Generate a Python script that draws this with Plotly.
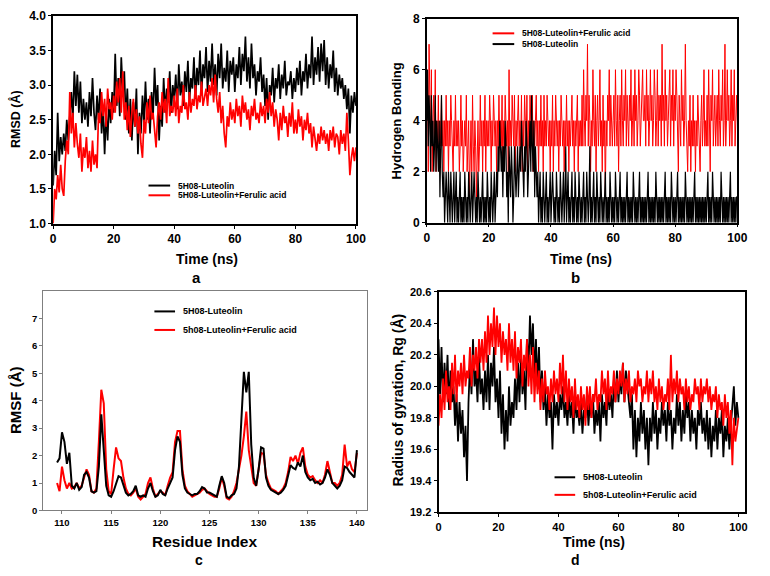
import plotly.graph_objects as go

# simulation time grids (0-100 ns) and residue index grid
time_ns = [0.5 * i for i in range(201)]
time_hb = [0.25 * i for i in range(401)]
residue = [109.5 + 0.25 * i for i in range(123)]

# panel a - RMSD (A)
rmsd_lut = [
    1.55, 2.05, 1.7, 2.6, 1.9, 2.25, 2.0, 2.3, 2.05, 2.5, 2.2, 2.6, 2.9, 2.5, 3.2, 2.7, 3.15, 2.6, 3.05, 2.45,
    2.8, 2.5, 2.75, 2.4, 2.9, 2.55, 3.1, 2.6, 2.35, 2.85, 2.5, 2.95, 2.3, 2.7, 2.0, 2.6, 2.2, 2.8, 2.45, 2.9,
    2.6, 3.45, 2.7, 3.1, 2.55, 3.4, 2.9, 3.2, 2.5, 2.95, 2.3, 2.8, 2.2, 2.75, 2.4, 2.95, 2.0, 2.6, 2.3, 2.85,
    2.45, 3.05, 2.5, 2.8, 2.3, 2.9, 2.55, 3.25, 2.7, 3.0, 2.2, 2.7, 2.4, 3.1, 2.6, 2.95, 2.75, 3.2, 2.6, 3.0,
    2.8, 3.15, 2.65, 3.3, 2.85, 3.05, 2.7, 3.2, 2.9, 3.35, 2.75, 3.1, 2.95, 3.4, 2.8, 3.25, 3.0, 3.5, 2.85, 3.3,
    3.1, 3.55, 2.9, 3.35, 3.05, 3.6, 3.0, 3.3, 2.85, 3.45, 3.1, 3.6, 2.95, 3.25, 3.05, 3.5, 2.9, 3.35, 3.15, 3.4,
    2.9, 3.3, 3.1, 3.55, 3.0, 3.45, 3.2, 3.7, 3.05, 3.4, 2.95, 3.6, 3.1, 3.3, 2.85, 3.2, 3.05, 3.4, 2.9, 3.15,
    2.7, 3.1, 2.5, 3.0, 2.85, 3.25, 2.75, 3.1, 2.95, 3.3, 2.8, 3.15, 2.95, 3.35, 2.85, 3.05, 3.0, 3.2, 2.8, 3.1,
    2.9, 3.25, 3.0, 3.35, 2.85, 3.2, 3.05, 3.45, 2.95, 3.3, 3.1, 3.7, 3.0, 3.4, 3.15, 3.55, 3.05, 3.6, 3.2, 3.65,
    3.0, 3.4, 2.95, 3.3, 3.1, 3.5, 2.9, 3.25, 2.85, 3.15, 2.95, 3.1, 2.8, 3.0, 2.65, 2.95, 2.3, 2.85, 2.6, 2.9,
    2.7,
]
rmsd_lut_fa = [
    1.0, 1.5, 1.35, 1.7, 1.45, 1.85, 1.5, 1.4, 1.9, 2.2, 2.0, 2.9, 2.3, 2.6, 2.1, 2.45, 2.15, 1.95, 2.3, 1.75,
    2.1, 1.95, 2.25, 1.8, 2.05, 1.75, 2.2, 1.85, 2.0, 1.8, 2.6, 2.45, 2.9, 2.55, 2.8, 2.4, 2.95, 2.65, 2.75, 2.5,
    2.85, 2.6, 3.05, 2.75, 3.1, 2.6, 3.2, 2.5, 2.75, 2.35, 2.7, 2.25, 2.6, 2.8, 2.4, 2.65, 2.3, 2.55, 2.15, 1.95,
    2.5, 2.3, 2.75, 2.45, 2.85, 2.5, 2.6, 2.3, 2.1, 2.55, 2.75, 2.5, 2.9, 2.6, 2.8, 2.45, 3.1, 2.55, 2.7, 2.6,
    2.85, 2.55, 2.95, 2.45, 2.7, 2.6, 3.0, 2.65, 2.75, 2.5, 2.9, 2.6, 2.8, 2.7, 3.0, 2.65, 2.85, 2.75, 3.05, 2.7,
    2.8, 2.95, 2.7, 3.0, 2.85, 3.1, 2.75, 3.15, 2.8, 2.6, 2.9, 2.45, 2.7, 2.3, 2.1, 2.55, 2.4, 2.75, 2.5, 2.65,
    2.45, 2.8, 2.55, 2.7, 2.4, 2.85, 2.6, 2.75, 2.5, 2.65, 2.35, 2.7, 2.55, 2.8, 2.5, 2.6, 2.45, 2.75, 2.55, 2.7,
    2.45, 2.8, 2.6, 2.9, 2.55, 2.75, 2.4, 2.65, 2.5, 2.2, 2.6, 2.35, 2.7, 2.45, 2.55, 2.25, 2.6, 2.4, 2.75, 2.3,
    2.5, 2.3, 2.65, 2.4, 2.55, 2.2, 2.5, 2.35, 2.6, 2.3, 2.45, 2.1, 2.4, 2.25, 2.05, 2.3, 2.15, 2.4, 2.2, 2.35,
    2.15, 2.3, 2.05, 2.35, 2.2, 2.4, 2.1, 2.3, 2.25, 2.0, 2.35, 2.15, 2.3, 2.05, 2.6, 2.2, 1.7, 1.95, 2.1, 1.9,
    2.1,
]

# panel b - number of hydrogen bonds, every 0.25 ns
hb_lut_fa = [
    4, 6, 2, 7, 5, 3, 6, 2, 4, 5, 3, 6, 2, 4, 3, 5, 2, 4, 3, 5, 3, 4, 2, 4, 3, 5, 3, 4, 2, 4, 3, 5, 4, 3, 2, 4, 3, 5, 3, 4,
    3, 4, 2, 3, 5, 3, 4, 2, 3, 4, 3, 5, 2, 3, 4, 1, 3, 4, 2, 5, 3, 2, 4, 3, 1, 3, 4, 2, 3, 5, 3, 4, 2, 4, 3, 5, 2, 4, 3, 4,
    3, 5, 4, 2, 4, 3, 5, 4, 3, 4, 2, 4, 3, 5, 3, 4, 3, 5, 2, 4, 3, 5, 4, 3, 4, 2, 6, 3, 4, 3, 5, 4, 3, 5, 2, 4, 3, 4, 5, 3,
    4, 3, 5, 2, 4, 3, 5, 4, 3, 5, 2, 4, 3, 5, 4, 3, 5, 2, 4, 3, 4, 5, 3, 4, 2, 4, 3, 5, 3, 4, 2, 5, 3, 4, 3, 5, 4, 3, 4, 2,
    4, 3, 5, 2, 4, 3, 5, 4, 3, 4, 2, 4, 3, 5, 4, 3, 4, 2, 4, 3, 5, 3, 4, 2, 4, 3, 4, 5, 3, 4, 2, 4, 3, 4, 5, 2, 4, 3, 4, 3,
    5, 3, 6, 4, 3, 5, 4, 7, 3, 5, 4, 2, 4, 3, 6, 4, 3, 5, 2, 4, 5, 3, 4, 6, 3, 4, 2, 5, 3, 4, 1, 4, 3, 5, 4, 6, 3, 5, 4, 3,
    4, 5, 3, 6, 4, 3, 5, 2, 4, 5, 3, 6, 4, 3, 5, 4, 6, 3, 5, 4, 3, 5, 4, 6, 3, 4, 5, 3, 6, 4, 5, 3, 4, 6, 5, 3, 4, 5, 6, 4,
    4, 5, 3, 6, 4, 5, 3, 4, 6, 4, 5, 3, 4, 6, 5, 3, 4, 6, 3, 5, 4, 5, 3, 7, 4, 5, 3, 6, 4, 5, 3, 4, 5, 6, 3, 5, 4, 6, 3, 5,
    4, 6, 5, 3, 2, 5, 4, 3, 6, 4, 5, 3, 4, 7, 4, 3, 2, 4, 3, 5, 2, 4, 3, 5, 3, 4, 2, 4, 3, 5, 4, 3, 2, 4, 5, 3, 4, 6, 3, 4,
    3, 5, 3, 6, 4, 2, 5, 4, 6, 3, 4, 5, 3, 4, 5, 3, 6, 4, 3, 5, 4, 6, 3, 4, 7, 3, 4, 6, 4, 5, 3, 4, 6, 3, 5, 4, 6, 3, 4, 5,
    4,
]
hb_lut = [
    4, 6, 3, 5, 4, 2, 5, 3, 4, 2, 3, 5, 2, 4, 3, 2, 4, 1, 3, 5, 2, 1, 2, 0, 1, 2, 1, 0, 2, 1, 0, 2, 1, 0, 1, 2, 0, 1, 2, 0,
    1, 0, 1, 2, 0, 1, 0, 1, 0, 2, 1, 0, 1, 0, 2, 1, 0, 1, 2, 0, 1, 2, 1, 0, 1, 0, 2, 1, 0, 1, 0, 1, 2, 0, 1, 0, 1, 0, 2, 1,
    0, 1, 0, 2, 1, 0, 1, 2, 0, 1, 2, 1, 3, 2, 4, 3, 2, 3, 1, 3, 2, 4, 3, 1, 2, 0, 3, 2, 1, 3, 2, 0, 1, 3, 2, 1, 2, 3, 1, 2,
    3, 2, 4, 3, 2, 1, 3, 2, 4, 3, 1, 2, 3, 4, 2, 5, 3, 2, 4, 1, 3, 2, 1, 2, 0, 1, 2, 0, 1, 0, 2, 1, 0, 1, 2, 0, 1, 0, 1, 2,
    0, 1, 2, 1, 0, 1, 0, 2, 1, 0, 1, 0, 2, 1, 0, 1, 2, 0, 1, 3, 0, 1, 2, 0, 1, 0, 1, 2, 0, 1, 0, 2, 1, 0, 1, 0, 2, 1, 0, 1,
    0, 1, 2, 0, 1, 0, 2, 1, 0, 1, 3, 0, 1, 0, 1, 2, 0, 1, 0, 2, 1, 0, 1, 0, 2, 1, 0, 1, 0, 1, 2, 0, 1, 0, 1, 0, 2, 1, 0, 1,
    0, 1, 0, 2, 1, 0, 1, 0, 1, 2, 0, 1, 0, 1, 0, 1, 0, 1, 2, 0, 1, 0, 1, 0, 1, 0, 2, 1, 0, 1, 0, 1, 0, 1, 2, 0, 1, 0, 1, 0,
    1, 0, 1, 0, 1, 2, 0, 1, 0, 1, 0, 1, 0, 1, 0, 2, 1, 0, 1, 0, 1, 0, 1, 0, 1, 0, 1, 2, 0, 1, 0, 1, 0, 1, 0, 2, 1, 0, 1, 0,
    1, 0, 1, 2, 0, 1, 0, 1, 0, 1, 0, 1, 0, 2, 1, 0, 1, 0, 1, 0, 1, 0, 1, 0, 1, 2, 0, 1, 0, 1, 0, 1, 0, 1, 0, 1, 0, 1, 0, 1,
    0, 1, 2, 0, 1, 0, 1, 0, 2, 1, 0, 1, 0, 1, 0, 1, 0, 1, 0, 2, 1, 0, 1, 0, 1, 0, 1, 0, 1, 0, 1, 2, 0, 1, 0, 1, 0, 1, 0, 1,
    1,
]

# panel c - RMSF (A) per residue
rmsf_lut = [
    1.75, 1.9,
    2.85, 2.5, 1.7, 2.1,   0.9, 0.8, 1.0, 0.75,   0.85, 1.3, 1.4, 1.2,   0.7, 0.65, 0.7, 1.6,
    3.5, 2.0, 0.9, 0.55,   0.5, 0.7, 1.0, 1.25,   1.2, 0.9, 0.65, 0.55,  0.6, 0.7, 0.9, 0.55,
    0.5, 0.55, 0.5, 0.8,   1.0, 0.7, 0.5, 0.55,   0.75, 0.6, 0.55, 0.8,  1.0, 1.2, 2.2, 2.7,
    2.5, 1.3, 0.8, 0.65,   0.6, 0.55, 0.6, 0.6,   0.7, 0.85, 0.8, 0.65,  0.65, 0.6, 0.55, 0.5,
    0.9, 1.25, 1.0, 0.5,   0.45, 0.55, 0.6, 0.8,  1.6, 3.5, 5.05, 4.3,   5.05, 2.4, 1.2, 0.9,
    1.5, 2.3, 2.25, 1.2,   0.9, 0.75, 0.7, 0.65,  0.6, 0.65, 0.75, 0.9,  1.3, 1.65, 1.55, 1.5,
    1.75, 1.6, 2.0, 1.4,   1.2, 1.1, 1.15, 1.0,   1.05, 0.95, 1.0, 1.2,  1.5, 1.3, 1.0, 0.9,
    0.8, 0.9, 1.1, 1.6,    1.55, 1.4, 1.3, 1.2,
    2.2,
]
rmsf_lut_fa = [
    1.0, 0.7,
    1.6, 1.1, 0.8, 1.0,    0.8, 0.85, 1.0, 0.8,   0.9, 1.2, 1.5, 1.3,    0.7, 0.65, 0.8, 2.5,
    4.4, 3.9, 1.5, 0.7,    0.6, 1.5, 2.3, 1.9,    1.8, 1.2, 0.8, 0.6,    0.55, 0.65, 0.8, 0.5,
    0.4, 0.5, 0.6, 1.0,    1.2, 0.8, 0.5, 0.6,    0.7, 0.65, 0.55, 0.9,  1.2, 1.4, 2.5, 2.9,
    2.9, 1.5, 0.9, 0.7,    0.6, 0.5, 0.55, 0.6,   0.65, 0.75, 0.8, 0.7,  0.6, 0.55, 0.5, 0.5,
    0.8, 1.2, 0.9, 0.45,   0.4, 0.5, 0.7, 1.0,    1.5, 2.0, 2.7, 3.6,    2.2, 1.6, 1.0, 0.9,
    1.5, 2.1, 2.05, 1.3,   1.0, 0.8, 0.75, 0.7,   0.6, 0.7, 0.8, 1.0,    1.4, 1.95, 1.8, 2.0,
    1.7, 2.1, 2.3, 1.6,    1.3, 1.2, 1.25, 1.1,   1.0, 1.1, 1.0, 1.3,    1.8, 1.4, 1.0, 1.0,
    0.9, 1.0, 1.3, 2.4,    1.6, 1.8, 1.5, 1.4,
    2.1,
]

# panel d - radius of gyration (A)
rg_lut = [
    20.3, 19.95, 20.25, 19.9, 20.15, 19.95, 20.2, 19.85, 20.1, 19.9, 20.0, 19.75, 19.95, 19.65, 19.9, 19.7, 19.85, 19.55, 19.75, 19.4,
    19.9, 20.15, 19.95, 20.3, 20.0, 20.1, 19.9, 20.2, 19.95, 20.05, 19.85, 20.1, 19.9, 20.2, 19.85, 20.15, 20.0, 20.25, 19.9, 20.05,
    19.8, 20.1, 19.7, 19.95, 19.6, 19.85, 19.65, 20.0, 19.75, 19.9, 19.8, 20.05, 19.85, 20.15, 19.9, 20.2, 19.95, 20.1, 19.85, 20.3,
    20.1, 20.45, 20.2, 20.4, 20.05, 20.3, 20.0, 20.25, 19.9, 20.1, 19.85, 20.0, 19.75, 19.95, 19.8, 19.9, 19.6, 19.95, 19.8, 19.9,
    19.75, 19.95, 19.85, 20.0, 19.8, 19.9, 19.75, 19.95, 19.8, 19.9, 19.7, 19.95, 19.8, 19.85, 19.75, 19.9, 19.7, 19.85, 19.8, 19.95,
    19.75, 19.9, 19.8, 19.95, 19.7, 19.85, 19.75, 19.9, 19.65, 19.95, 19.8, 19.9, 19.75, 20.0, 19.85, 19.95, 19.8, 20.05, 19.9, 20.1,
    19.9, 20.05, 19.95, 20.15, 19.9, 20.1, 20.0, 19.9, 19.8, 19.95, 19.6, 19.85, 19.55, 19.8, 19.65, 19.9, 19.7, 19.85, 19.6, 19.8,
    19.5, 19.8, 19.65, 19.9, 19.7, 19.85, 19.6, 19.8, 19.7, 19.9, 19.75, 19.85, 19.65, 19.9, 19.75, 19.85, 19.6, 19.8, 19.7, 19.95,
    19.75, 19.9, 19.65, 19.85, 19.7, 19.95, 19.8, 19.9, 19.65, 19.85, 19.7, 19.8, 19.6, 19.85, 19.75, 19.9, 19.7, 19.8, 19.65, 19.85,
    19.6, 19.8, 19.55, 19.75, 19.65, 19.85, 19.6, 19.8, 19.7, 19.85, 19.55, 19.75, 19.65, 19.8, 19.6, 19.75, 19.85, 20.0, 19.75, 19.9,
    19.8,
]
rg_lut_fa = [
    19.75, 19.95, 19.8, 20.05, 19.85, 20.1, 19.9, 20.0, 19.85, 20.15, 19.95, 20.2, 19.9, 20.1, 20.0, 20.15, 19.95, 20.2, 20.0, 20.1,
    20.05, 20.25, 20.0, 20.2, 20.1, 20.25, 20.05, 20.3, 20.15, 20.3, 20.1, 20.35, 20.15, 20.45, 20.2, 20.4, 20.25, 20.5, 20.2, 20.45,
    20.25, 20.4, 20.15, 20.35, 20.2, 20.3, 20.1, 20.4, 20.15, 20.3, 20.1, 20.35, 20.05, 20.25, 20.15, 20.3, 20.0, 20.2, 20.1, 20.3,
    20.0, 20.2, 19.95, 20.25, 19.9, 20.15, 19.95, 20.1, 19.85, 20.05, 19.9, 20.1, 19.95, 20.0, 19.85, 20.05, 19.9, 20.1, 19.95, 20.05,
    19.9, 20.15, 19.95, 20.2, 19.9, 20.1, 19.85, 20.05, 19.9, 20.0, 19.8, 20.05, 19.85, 19.95, 19.8, 20.0, 19.85, 19.95, 19.75, 20.0,
    19.85, 20.0, 19.8, 19.95, 19.9, 20.05, 19.85, 19.95, 19.9, 20.1, 19.95, 20.05, 19.85, 20.1, 19.9, 20.0, 19.95, 20.1, 19.9, 20.05,
    19.95, 20.1, 20.0, 20.15, 19.9, 20.05, 19.95, 20.1, 19.9, 20.0, 19.95, 20.05, 19.9, 20.1, 20.0, 20.05, 19.9, 20.0, 19.95, 20.1,
    19.9, 20.05, 19.95, 20.1, 19.9, 20.0, 19.85, 20.05, 19.9, 20.0, 19.85, 19.95, 19.9, 20.05, 19.85, 20.2, 19.9, 20.05, 19.95, 20.1,
    19.9, 20.05, 19.95, 20.0, 19.85, 20.05, 19.9, 20.0, 19.85, 19.95, 19.9, 20.05, 19.95, 20.0, 19.85, 20.05, 19.9, 20.0, 19.95, 20.05,
    19.9, 20.0, 19.85, 19.95, 19.9, 20.0, 19.8, 19.95, 19.85, 19.9, 19.75, 19.95, 19.8, 19.9, 19.7, 19.85, 19.5, 19.8, 19.65, 19.75,
    19.8,
]

W, H = 770, 576
FONT = "Liberation Sans"
RED = "#ff0000"
BLACK = "#000000"


#pixel helpers so the layout can be read straight off the reference picture
def px(x):
    return x / W


def py(y):
    return 1 - y / H


def axis_style(x0, x1, rng, dtick, line_w=1.8, line_col=BLACK, tick_size=12, fmt=None):
    d = dict(domain=[x0, x1], range=rng, dtick=dtick, showline=True, linecolor=line_col,
             linewidth=line_w, mirror=True, ticks="outside", ticklen=3, tickwidth=1.2,
             tickcolor=line_col, showgrid=False, zeroline=False,
             tickfont=dict(family=FONT, size=tick_size, color=BLACK, weight="bold"))
    if fmt:
        d["tickformat"] = fmt
    return d


fig = go.Figure()

# a: black under red
fig.add_trace(go.Scatter(x=time_ns, y=rmsd_lut, mode="lines", line=dict(color=BLACK, width=1.7),
                         xaxis="x", yaxis="y", showlegend=False))
fig.add_trace(go.Scatter(x=time_ns, y=rmsd_lut_fa, mode="lines", line=dict(color=RED, width=1.7),
                         xaxis="x", yaxis="y", showlegend=False))
# b: red under black
fig.add_trace(go.Scatter(x=time_hb, y=hb_lut_fa, mode="lines", line=dict(color=RED, width=1),
                         xaxis="x2", yaxis="y2", showlegend=False))
fig.add_trace(go.Scatter(x=time_hb, y=hb_lut, mode="lines", line=dict(color=BLACK, width=1.2),
                         xaxis="x2", yaxis="y2", showlegend=False))
# c
fig.add_trace(go.Scatter(x=residue, y=rmsf_lut_fa, mode="lines", line=dict(color=RED, width=2),
                         xaxis="x3", yaxis="y3", showlegend=False))
fig.add_trace(go.Scatter(x=residue, y=rmsf_lut, mode="lines", line=dict(color=BLACK, width=2),
                         xaxis="x3", yaxis="y3", showlegend=False))
# d: black under red
fig.add_trace(go.Scatter(x=time_ns, y=rg_lut, mode="lines", line=dict(color=BLACK, width=1.8),
                         xaxis="x4", yaxis="y4", showlegend=False))
fig.add_trace(go.Scatter(x=time_ns, y=rg_lut_fa, mode="lines", line=dict(color=RED, width=1.8),
                         xaxis="x4", yaxis="y4", showlegend=False))

fig.update_layout(
    width=W, height=H, margin=dict(l=0, r=0, t=0, b=0),
    paper_bgcolor="white", plot_bgcolor="white",
    xaxis=axis_style(px(51), px(359), [0, 100], 20),
    yaxis=axis_style(py(222), py(9), [1, 4], 0.5, fmt=".1f"),
    xaxis2=axis_style(px(431), px(747), [0, 100], 20, line_w=1.5),
    yaxis2=axis_style(py(221), py(12), [0, 8], 2, line_w=1.5),
    xaxis3=axis_style(px(41), px(370), [108.1, 141], 5, line_w=1, line_col="#7f7f7f", tick_size=9.5),
    yaxis3=axis_style(py(516), py(291), [0, 8], 1, line_w=1, line_col="#7f7f7f", tick_size=9.5),
    xaxis4=axis_style(px(443), px(755), [0, 102.3], 20, line_w=2, tick_size=11),
    yaxis4=axis_style(py(518), py(292), [19.2, 20.6], 0.2, fmt=".1f", tick_size=11),
)
for i in range(1, 5):
    fig.layout["xaxis" + ("" if i == 1 else str(i))].anchor = "y" + ("" if i == 1 else str(i))
    fig.layout["yaxis" + ("" if i == 1 else str(i))].anchor = "x" + ("" if i == 1 else str(i))
# only 0..7 labelled on the RMSF axis
fig.layout.yaxis3.tickvals = [0, 1, 2, 3, 4, 5, 6, 7]


def text(x, y, s, size, angle=0, anchor="center"):
    fig.add_annotation(x=px(x), y=py(y), xref="paper", yref="paper", text=s, showarrow=False,
                       textangle=angle, xanchor=anchor, yanchor="middle",
                       font=dict(family=FONT, size=size, color=BLACK, weight="bold"))


#axis titles and panel letters
text(207, 258, "Time (ns)", 14)
text(197, 277, "a", 15)
text(12, 115, "RMSD (Å)", 12.5, angle=-90)

text(588, 258, "Time (ns)", 14)
text(582, 277, "b", 15)
text(400, 117, "Hydrogen Bonding", 13, angle=-90)

text(205, 548, "Residue Index", 15.5)
text(199, 567, "c", 14)
text(12, 403, "RMSF (Å)", 15, angle=-90)

text(601, 548, "Time (ns)", 14)
text(582, 567, "d", 14)
text(402, 403, "Radius of gyration, Rg (Å)", 14, angle=-90)


#hand placed legends, the items sit closer together than plotly's own legend allows
def add_legend(x0, y0, dy, entries, line_len=22, gap=6, size=8.5, width=2):
    for i, (name, color) in enumerate(entries):
        y = y0 + i * dy
        fig.add_shape(type="line", xref="paper", yref="paper", x0=px(x0), x1=px(x0 + line_len),
                      y0=py(y), y1=py(y), line=dict(color=color, width=width))
        text(x0 + line_len + gap, y, name, size, anchor="left")


add_legend(148, 183, 10, [("5H08-Luteolin", BLACK), ("5H08-Luteolin+Ferulic acid", RED)])
add_legend(498, 27, 11, [("5H08-Luteolin+Ferulic acid", RED), ("5H08-Luteolin", BLACK)])
add_legend(154, 312, 19, [("5H08-Luteolin", BLACK), ("5h08-Luteolin+Ferulic acid", RED)], line_len=21, size=9)
add_legend(561, 482, 18, [("5H08-Luteolin", BLACK), ("5h08-Luteolin+Ferulic acid", RED)], line_len=21, size=9)

# the page body keeps its default 8px margin otherwise, which pushes the figure off the window
fig.write_html("out.html", config={"displayModeBar": False},
               post_script="document.body.style.margin='0';")
